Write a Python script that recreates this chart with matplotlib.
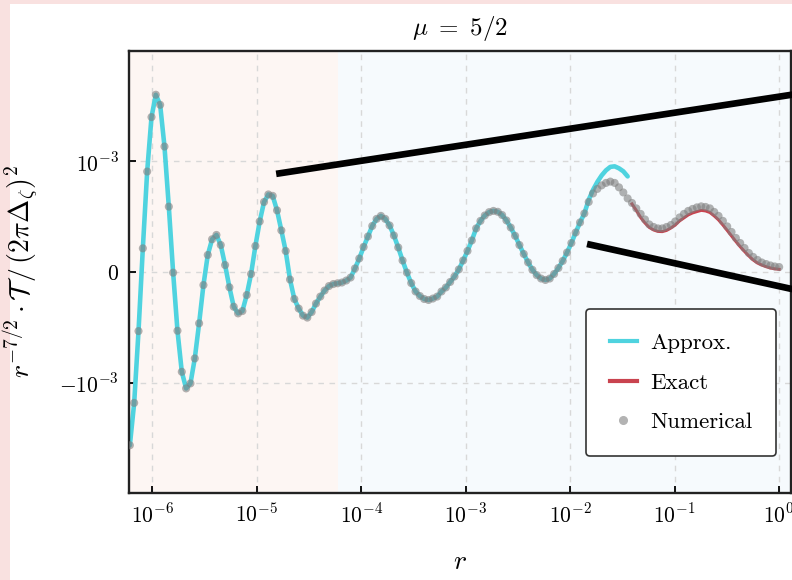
import numpy as np
import matplotlib
matplotlib.use("Agg")
import matplotlib.pyplot as plt
from matplotlib.lines import Line2D
from matplotlib.patches import Rectangle

plt.rcParams['font.family'] = ['cmr10', 'DejaVu Serif']
plt.rcParams['mathtext.fontset'] = 'cm'
plt.rcParams['axes.formatter.use_mathtext'] = True

# ---------------- data ----------------
# numerical samples: log-spaced radius grid
r_log_start, r_log_stop, n_num = -6.214, 0.0, 151
# numerical values, in units of 1e-3
num_T = [
    -1.566, -1.183, -0.534, 0.214, 0.908, 1.400, 1.602, 1.511, 1.134, 0.591,
    -0.006, -0.531, -0.902, -1.052, -1.007, -0.781, -0.464, -0.118, 0.154, 0.296,
    0.335, 0.244, 0.063, -0.138, -0.314, -0.374, -0.353, -0.208, -0.018, 0.235,
    0.457, 0.633, 0.701, 0.688, 0.557, 0.376, 0.190, -0.068, -0.244, -0.330,
    -0.394, -0.412, -0.362, -0.285, -0.222, -0.167, -0.127, -0.109, -0.102, -0.095,
    -0.077, -0.050, 0.032, 0.122, 0.226, 0.321, 0.416, 0.480, 0.507, 0.480,
    0.421, 0.330, 0.222, 0.104, -0.005, -0.100, -0.176, -0.217, -0.244, -0.253,
    -0.240, -0.222, -0.176, -0.140, -0.090, -0.041, 0.023, 0.104, 0.190, 0.285,
    0.394, 0.462, 0.511, 0.541, 0.552, 0.544, 0.515, 0.466, 0.402, 0.327,
    0.244, 0.163, 0.087, 0.020, -0.028, -0.059, -0.072, -0.059, -0.018, 0.036,
    0.100, 0.176, 0.262, 0.357, 0.448, 0.529, 0.633, 0.710, 0.751, 0.783,
    0.805, 0.817, 0.805, 0.765, 0.719, 0.665, 0.624, 0.575, 0.525, 0.475,
    0.430, 0.407, 0.394, 0.394, 0.407, 0.425, 0.457, 0.493, 0.525, 0.552,
    0.570, 0.584, 0.593, 0.588, 0.575, 0.543, 0.507, 0.462, 0.412, 0.362,
    0.308, 0.262, 0.217, 0.172, 0.136, 0.109, 0.086, 0.072, 0.059, 0.050,
    0.045,
]
# approximation: identical to numerical up to index 105, then its own tail
approx_shared_until = 106
approx_tail_T = [0.652, 0.742, 0.814, 0.873, 0.919, 0.950, 0.955, 0.937, 0.910, 0.864]
# exact solution from index 116 to the end
exact_start = 116
exact_T = [
    0.615, 0.557, 0.493, 0.443, 0.403, 0.380, 0.367, 0.365, 0.376, 0.398,
    0.425, 0.462, 0.489, 0.516, 0.534, 0.546, 0.557, 0.552, 0.538, 0.507,
    0.471, 0.425, 0.376, 0.326, 0.276, 0.229, 0.186, 0.145, 0.109, 0.081,
    0.063, 0.048, 0.036, 0.029, 0.024,
]
# shaded regimes
region_split = 6.0e-5
# zoom connector lines (r, T in 1e-3)
zoom_line1_r = [1.535e-5, 3.16]
zoom_line1_T = [0.887, 1.657]
zoom_line2_r = [1.45e-2, 3.16]
zoom_line2_T = [0.2534, -0.2324]

x_ticks = [1e-6, 1e-5, 1e-4, 1e-3, 1e-2, 1e-1, 1e0]
x_ticklabels = [r'$10^{-6}$', r'$10^{-5}$', r'$10^{-4}$', r'$10^{-3}$',
                r'$10^{-2}$', r'$10^{-1}$', r'$10^{0}$']
y_ticks = [-1e-3, 0, 1e-3]
y_ticklabels = [r'$-10^{-3}$', r'$0$', r'$10^{-3}$']

# ---------------- build ----------------
r = np.logspace(r_log_start, r_log_stop, n_num)
num = np.array(num_T) * 1e-3
approx_T = np.concatenate([num[:approx_shared_until], np.array(approx_tail_T) * 1e-3])
approx_r = r[:len(approx_T)]
exact_r = r[exact_start:exact_start + len(exact_T)]
exact = np.array(exact_T) * 1e-3

fig = plt.figure(figsize=(7.92, 5.80), dpi=100)
fig.patch.set_facecolor('#f9e1e0')
fig.patches.append(Rectangle((10 / 792, 0), 1, 1 - 4 / 580, transform=fig.transFigure,
                             facecolor='white', edgecolor='none', zorder=-10))

ax = fig.add_axes([128.5 / 792, 1 - 493.3 / 580, (790.7 - 128.5) / 792, (493.3 - 50.7) / 580])
ax.set_xscale('log')
xmin, xmax = 5.93e-7, 1.29
ax.set_xlim(xmin, xmax)
ax.set_ylim(-2e-3, 2e-3)

ax.axvspan(xmin, region_split, color='#fdf6f3', zorder=0, lw=0)
ax.axvspan(region_split, xmax, color='#f6fafd', zorder=0, lw=0)

ax.plot(approx_r, approx_T, color='#4fd3df', lw=3.3, zorder=2, solid_capstyle='round')
ax.plot(exact_r, exact, color='#c9434f', lw=2.2, zorder=3)
ax.scatter(r, num, s=34, color='#7f7f7f', alpha=0.6, edgecolors='none', zorder=4)

for lr, lt in [(zoom_line1_r, zoom_line1_T), (zoom_line2_r, zoom_line2_T)]:
    ax.plot(lr, np.array(lt) * 1e-3, color='black', lw=4.8, clip_on=False, zorder=6,
            solid_capstyle='butt')

ax.set_xticks(x_ticks)
ax.set_xticklabels(x_ticklabels)
ax.xaxis.set_minor_locator(matplotlib.ticker.NullLocator())
ax.set_yticks(y_ticks)
ax.set_yticklabels(y_ticklabels)
ax.tick_params(direction='in', length=5, width=1.3, labelsize=15.5, pad=7)
ax.grid(True, which='major', ls=(0, (4, 4)), color='#d8d8d8', lw=1.0, zorder=1)
ax.set_axisbelow(True)
for s in ax.spines.values():
    s.set_linewidth(1.7)
    s.set_color('#222222')

ax.set_title(r'$\mu\ =\ 5/2$', fontsize=18, pad=11)
ax.set_xlabel(r'$r$', fontsize=20, labelpad=16)
ax.set_ylabel(r'$r^{-7/2}\cdot\mathcal{T}\,/\,(2\pi\Delta_\zeta)^2$', fontsize=20, labelpad=12)

handles = [
    Line2D([], [], color='#4fd3df', lw=3),
    Line2D([], [], color='#c9434f', lw=3),
    Line2D([], [], color='#b3b3b3', marker='o', ls='none', markersize=5.5),
]
leg = ax.legend(handles, ['Approx.', 'Exact', 'Numerical'], loc='lower right',
                bbox_to_anchor=(0.978, 0.084), borderaxespad=0, fontsize=16.5,
                frameon=True, fancybox=True, framealpha=1, edgecolor='#333333',
                handlelength=1.2, handletextpad=0.55, labelspacing=0.85,
                borderpad=1.05)
leg.get_frame().set_linewidth(1.2)
leg.set_zorder(7)

fig.savefig('out.png', dpi=100, facecolor=fig.get_facecolor())
